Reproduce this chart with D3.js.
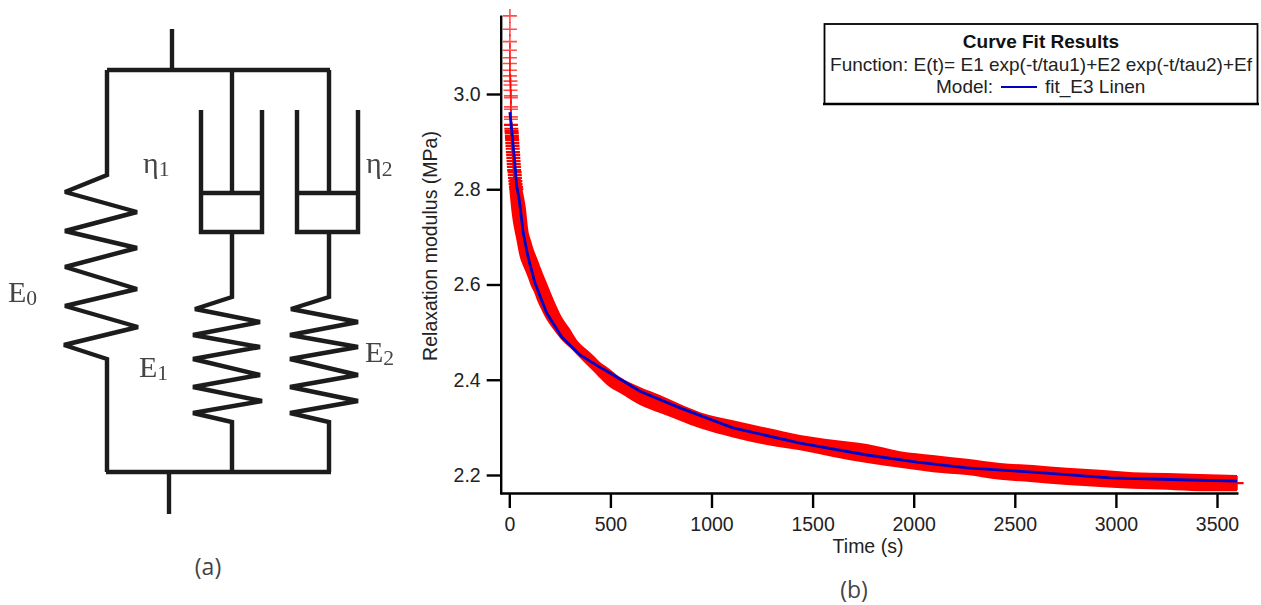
<!DOCTYPE html>
<html><head><meta charset="utf-8">
<script src="https://cdn.jsdelivr.net/npm/d3@7"></script>
<style>html,body{margin:0;padding:0;background:#fff}svg{display:block}
text{font-family:"Liberation Sans",Arial,sans-serif;fill:#222}
.serif{font-family:"Liberation Serif",serif;fill:#444}
</style></head><body><svg id="c" width="1261" height="605"><defs><filter id="soft" x="-5%" y="-5%" width="110%" height="110%"><feGaussianBlur stdDeviation="0.45"/></filter></defs></svg>
<script>
// Relaxation data
const xTicks=[0,500,1000,1500,2000,2500,3000,3500];
const yTicks=[2.2,2.4,2.6,2.8,3.0];
// individually visible "+" markers at the start of the record
const markerT=[3,3,3,3,3,3,3,3,6,6,6,8,8,8,8,8,8,8,10,11,12,13,13,14,15,16,17,18,19,20,21,22,23,24,26,27,28,30,31,33,35,3597];
const markerV=[3.164,3.136,3.110,3.092,3.076,3.064,3.050,3.038,3.027,3.019,3.008,2.996,2.992,2.973,2.968,2.952,2.947,2.935,2.927,2.922,2.918,2.912,2.908,2.903,2.897,2.891,2.885,2.878,2.872,2.866,2.859,2.853,2.847,2.840,2.836,2.830,2.824,2.817,2.811,2.805,2.800,2.183];
// envelope of the dense marker cloud
const bandT=[1,13,33,53,66,81,94,107,122,137,152,186,221,260,300,335,379,424,449,483,547,646,745,844,943,1106,1274,1438,1601,1769,1932,2095,2263,2427,2590,2758,2921,3084,3253,3416,3599];
const bandHi=[2.824,2.824,2.824,2.824,2.798,2.763,2.714,2.693,2.672,2.656,2.639,2.603,2.567,2.532,2.507,2.483,2.465,2.448,2.437,2.427,2.406,2.385,2.368,2.349,2.332,2.315,2.299,2.284,2.274,2.265,2.250,2.242,2.234,2.225,2.221,2.215,2.211,2.206,2.204,2.202,2.200];
const bandLo=[2.794,2.746,2.698,2.656,2.641,2.626,2.612,2.597,2.584,2.567,2.553,2.525,2.504,2.483,2.467,2.452,2.433,2.414,2.403,2.389,2.372,2.347,2.330,2.314,2.298,2.279,2.263,2.252,2.238,2.225,2.215,2.206,2.200,2.190,2.185,2.179,2.175,2.171,2.169,2.166,2.166];
// fitted curve
const fitT=[3,12,25,37,48,69,86,94,127,185,259,350,449,498,646,844,1106,1438,1769,2016,2263,2590,2837,2971,3317,3599];
const fitV=[2.962,2.924,2.866,2.805,2.782,2.708,2.672,2.656,2.603,2.540,2.490,2.452,2.426,2.414,2.376,2.341,2.299,2.267,2.242,2.227,2.215,2.206,2.198,2.194,2.190,2.187];

const svg=d3.select("#c");
const x=d3.scaleLinear().domain([0,500]).range([509.3,610.4]);
const y=d3.scaleLinear().domain([2.2,3.0]).range([475,94]);
const xAxisScale=x.copy().domain([x.invert(500),x.invert(1238)]).range([500,1238]);
const yAxisScale=y.copy().domain([y.invert(494),y.invert(15)]).range([494,15]);

// cloud
svg.append("path").attr("fill","#f00")
 .attr("d",d3.area().x(d=>x(bandT[d])).y0(d=>y(bandLo[d])).y1(d=>y(bandHi[d])).curve(d3.curveMonotoneX)(d3.range(bandT.length)));
const arm=7;
svg.append("g").selectAll("path").data(markerT).join("path")
 .attr("fill","none").attr("stroke","#f00").attr("stroke-width",(d,i)=>markerV[i]<2.94?2.2:1.6).attr("stroke-opacity",(d,i)=>markerV[i]<2.94?1:.7)
 .attr("d",(d,i)=>{const px=x(d),py=y(markerV[i]);return `M${px-arm},${py}H${px+arm}M${px},${py-arm}V${py+arm}`});
svg.append("path").attr("fill","none").attr("stroke","#0000c8").attr("stroke-width",2.8)
 .attr("d",d3.line().x(d=>x(fitT[d])).y(d=>y(fitV[d]))(d3.range(fitT.length)));

// axes
const fs=19.5;
function styleAxis(g){g.selectAll("path,line").attr("stroke","#000").attr("stroke-width",2.4);
 g.selectAll("text").attr("font-size",fs).style("fill","#222");}
svg.append("g").attr("transform","translate(0,493)")
 .call(d3.axisBottom(xAxisScale).tickValues(xTicks).tickFormat(d3.format("d")).tickSizeInner(15).tickSizeOuter(0).tickPadding(9)).call(styleAxis);
svg.append("g").attr("transform","translate(500.7,0)")
 .call(d3.axisLeft(yAxisScale).tickValues(yTicks).tickFormat(d3.format(".1f")).tickSizeInner(14).tickSizeOuter(0).tickPadding(6)).call(styleAxis);
svg.append("text").attr("x",868).attr("y",553).attr("text-anchor","middle").attr("font-size",fs).text("Time (s)");
svg.append("text").attr("transform","translate(437,246) rotate(-90)").attr("text-anchor","middle").attr("font-size",fs).text("Relaxation modulus (MPa)");

// legend box
svg.append("rect").attr("x",824.5).attr("y",24).attr("width",433).attr("height",80).attr("fill","#fff").attr("stroke","#000").attr("stroke-width",1.8);
svg.append("line").attr("x1",823).attr("x2",1259).attr("y1",104).attr("y2",104).attr("stroke","#000").attr("stroke-width",2.6);
svg.append("text").attr("x",1041).attr("y",48).attr("text-anchor","middle").attr("font-size",19).attr("font-weight","bold").style("fill","#111").text("Curve Fit Results");
svg.append("text").attr("x",1041).attr("y",71).attr("text-anchor","middle").attr("font-size",19).text("Function: E(t)= E1 exp(-t/tau1)+E2 exp(-t/tau2)+Ef");
svg.append("text").attr("x",936).attr("y",93).attr("font-size",19).text("Model:");
svg.append("line").attr("x1",1001).attr("x2",1037).attr("y1",87).attr("y2",87).attr("stroke","#0000c8").attr("stroke-width",2.2);
svg.append("text").attr("x",1045).attr("y",93).attr("font-size",19).text("fit_E3 Linen");

// schematic (a)
const springE0=[[107,70],[107,175],[65,192],[137,212],[65,231],[137,248],[65,267],[137,289],[65,306],[138,327],[64,345],[107,359],[107,472]];
const spring=[[232,232],[232,297],[195,309],[260,322],[193,335],[260,347],[193,359],[260,375],[193,387],[262,401],[193,413],[232,422],[232,472]];
const spring2=[[329,232],[329,297],[291,309],[358,322],[290,335],[358,347],[290,359],[358,375],[290,387],[358,401],[290,413],[329,422],[329,472]];
const wires=[[[172,29],[172,70]],[[107,70],[330,70]],[[232,70],[232,193]],[[329,70],[329,193]],
 [[201,110],[201,232],[262,232],[262,110]],[[201,193],[262,193]],
 [[297,110],[297,232],[358,232],[358,110]],[[297,193],[358,193]],
 [[106,472],[331,472]],[[169,472],[169,514]]];
const sch=svg.append("g").attr("fill","none").attr("stroke","#1c1c1c").attr("stroke-width",4.4).attr("stroke-linejoin","miter").attr("stroke-miterlimit",3).attr("filter","url(#soft)");
[springE0,spring,spring2,...wires].forEach(p=>sch.append("path").attr("d",d3.line()(p)));
function sub(px,py,main,s,size){const t=svg.append("text").attr("class","serif").attr("x",px).attr("y",py).attr("font-size",size).attr("filter","url(#soft)");
 t.append("tspan").text(main);t.append("tspan").attr("font-size",size*.72).attr("dy",3).text(s);}
sub(8,302,"E","0",30);sub(139,377,"E","1",30);sub(365,362,"E","2",30);
sub(143,173,"η","1",30);sub(366,173,"η","2",30);
svg.append("text").attr("x",208).attr("y",575).attr("text-anchor","middle").attr("font-size",23).style("font-family","Open Sans").style("fill","#444").text("(a)");
svg.append("text").attr("x",854).attr("y",598).attr("text-anchor","middle").attr("font-size",23).style("font-family","Open Sans").style("fill","#444").text("(b)");
</script></body></html>
